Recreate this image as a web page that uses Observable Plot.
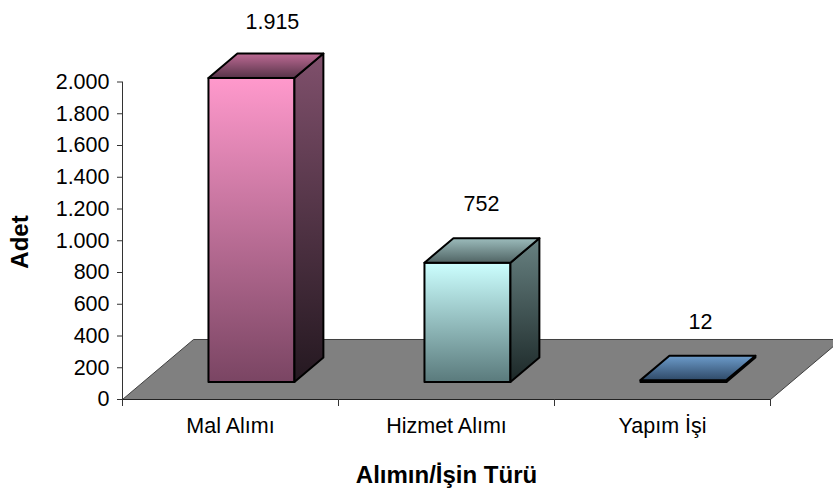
<!DOCTYPE html>
<html><head><meta charset="utf-8">
<script src="https://cdn.jsdelivr.net/npm/d3@7"></script>
<script src="https://cdn.jsdelivr.net/npm/@observablehq/plot@0.6"></script>
<style>html,body{margin:0;padding:0;background:#fff;overflow:hidden}svg{display:block}</style>
</head><body><script>
const categories = ["Mal Alımı", "Hizmet Alımı", "Yapım İşi"];
const values = [1915, 752, 12];
const valueLabels = ["1.915", "752", "12"];
const yTicks = [0,200,400,600,800,1000,1200,1400,1600,1800,2000];
const xTicks = [0,1,2,3];
const gradients = [
  {front:["#ff99cc","#7a4563"], side:["#80506c","#241820"], top:["#bd6a94","#563348"]},
  {front:["#ccffff","#5a7a7c"], side:["#688282","#1c2828"], top:["#9cbcbc","#506464"]},
  {front:["#6699cc","#2a4058"], side:["#345070","#101820"], top:["#6d9ccb","#2f4a68"]}
];
// geometry of the pseudo-3D scene, in data units
const shift = 0.097, half = 0.199, dx = 0.134, dy = 154, lift = 110;
const floorDx = 0.329, floorDy = 378;
const labelShiftX = [0.194, 0.162, 0.176], labelShiftY = [0, 13, 13];
const dot = d3.formatLocale({decimal:",",thousands:".",grouping:[3],currency:["",""]}).format(",d");

const defs = () => {
  const d = d3.create("svg:defs");
  gradients.forEach((g,i)=>{ for (const k of ["front","side","top"]) {
    const lg = d.append("linearGradient").attr("id",`${k}${i}`).attr("x1",0).attr("x2",0).attr("y1",0).attr("y2",1);
    lg.append("stop").attr("offset",0).attr("stop-color",g[k][0]);
    lg.append("stop").attr("offset",1).attr("stop-color",g[k][1]);
  }});
  return d.node();
};
const poly = (pts, fill, stroke="#000", strokeWidth=2) =>
  Plot.line([...pts, pts[0]], {x:"x", y:"y", fill, stroke, strokeWidth, strokeLinejoin:"round", curve:"linear"});
const bar = (v,i) => {
  const x0 = i+0.5+shift-half, x1 = i+0.5+shift+half, y0 = lift, y1 = lift+v;
  return [
    poly([{x:x0,y:y0},{x:x1,y:y0},{x:x1,y:y1},{x:x0,y:y1}], `url(#front${i})`),
    poly([{x:x1,y:y0},{x:x1+dx,y:y0+dy},{x:x1+dx,y:y1+dy},{x:x1,y:y1}], `url(#side${i})`),
    poly([{x:x0,y:y1},{x:x1,y:y1},{x:x1+dx,y:y1+dy},{x:x0+dx,y:y1+dy}], `url(#top${i})`)
  ];
};
const chart = Plot.plot({
  width:833, height:488, marginTop:81, marginBottom:89, marginLeft:122, marginRight:63,
  style:{fontFamily:"'Liberation Sans',Arial,sans-serif", fontSize:"21.5px", color:"#000", background:"#fff"},
  x:{domain:[0,3], range:[122,770], axis:null},
  y:{domain:[0,2000], range:[399,81.5], axis:null},
  marks:[
    defs,
    poly([{x:0,y:0},{x:3,y:0},{x:3+floorDx,y:floorDy},{x:floorDx,y:floorDy}], "#808080", "#404040", 1),
    Plot.ruleX([0], {y1:0, y2:2000, stroke:"#333"}),
    Plot.ruleY([0], {x1:0, x2:3, stroke:"#222"}),
    Plot.axisY({ticks:yTicks, tickFormat:dot, tickSize:5, tickPadding:8, label:null, fontSize:21.5, stroke:"#333", color:"#000"}),
    Plot.axisX({ticks:xTicks, tickSize:7, tickFormat:()=>"", label:null, stroke:"#333"}),
    Plot.text(categories, {x:(d,i)=>i+0.5, y:0, dy:27, text:d=>d, fontSize:21.5, fill:"#000"}),
    ...values.flatMap(bar),
    Plot.text(values, {x:(d,i)=>i+0.5+labelShiftX[i], y:(d,i)=>d+lift+labelShiftY[i], dy:-56, text:(d,i)=>valueLabels[i], fontSize:21.5, fill:"#000"}),
    Plot.text(["Adet"], {frameAnchor:"left", textAnchor:"middle", lineAnchor:"middle", dx:-102, dy:1.5, rotate:-90, fontSize:24, fontWeight:"bold", fill:"#000"}),
    Plot.text(["Alımın/İşin Türü"], {frameAnchor:"bottom", lineAnchor:"middle", dy:75.5, fontSize:24, fontWeight:"bold", fill:"#000"})
  ]
});
document.body.append(chart);
</script></body></html>
